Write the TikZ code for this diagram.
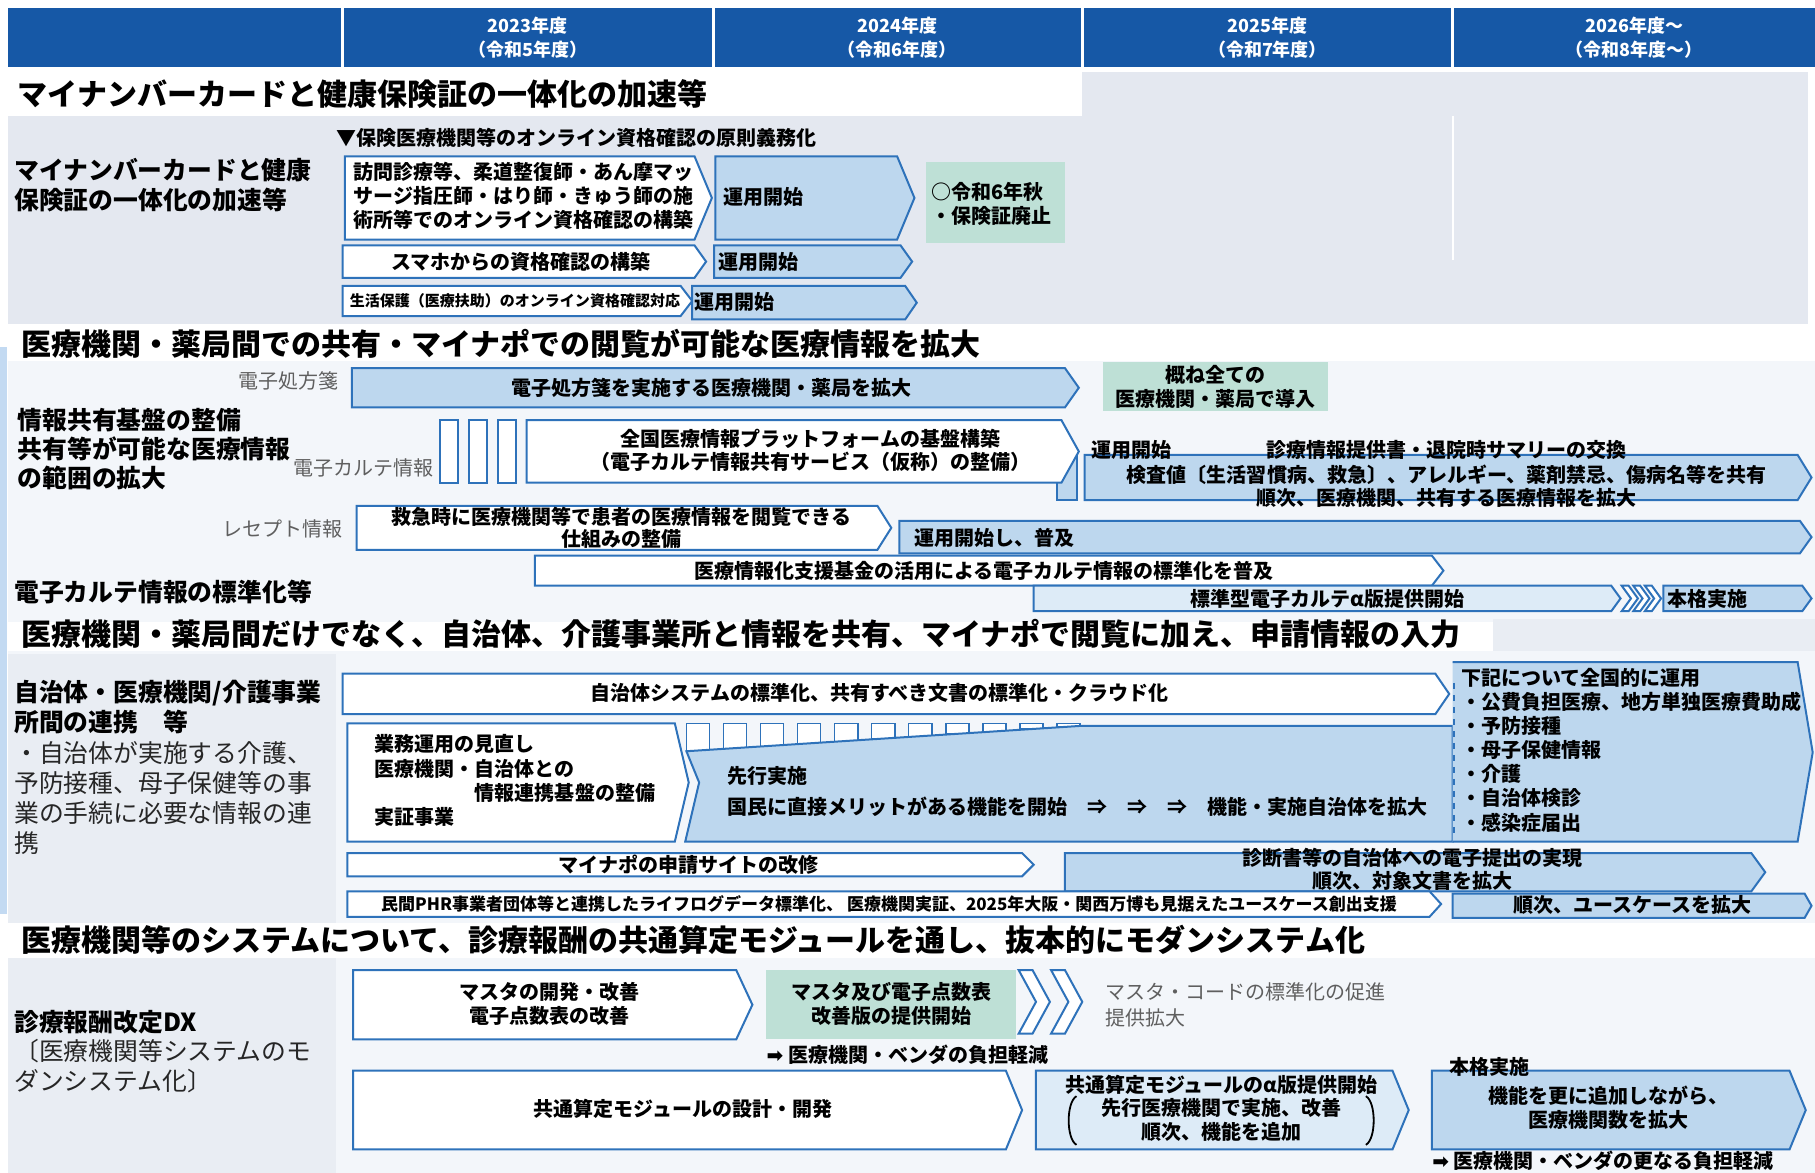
\documentclass[tikz,border=0pt]{standalone}
\usepackage{fontspec}
\setmainfont{Noto Sans CJK JP}
\newfontfamily\djvfont{DejaVu Sans}
\definecolor{hblue}{RGB}{22,88,166}
\definecolor{oblue}{RGB}{46,114,186}
\definecolor{fblue}{RGB}{189,215,238}
\definecolor{pblue}{RGB}{221,235,247}
\definecolor{grn}{RGB}{190,224,214}
\definecolor{bgone}{RGB}{228,232,240}
\definecolor{bgtwo}{RGB}{243,246,250}
\definecolor{bgthree}{RGB}{233,237,243}
\definecolor{lstrip}{RGB}{195,218,242}
\definecolor{gtext}{RGB}{95,95,95}
\newcommand{\chv}[7]{%
  \path[#1] (#2,#3) -- ({#4-#6},#3) -- (#4,{(#3+#5)/2}) -- ({#4-#6},#5) -- (#2,#5) -- cycle;
  \coordinate (#7) at ({(#2+#4)/2},{(#3+#5)/2});}
\newcommand{\sch}[5]{%
  \path[wb] (#1,#2) -- ({#1+#5},#2) -- ({#1+#4},{(#2+#3)/2}) -- ({#1+#5},#3) -- (#1,#3) -- ({#1+#4-#5},{(#2+#3)/2}) -- cycle;}
\tikzset{
 wb/.style={draw=oblue, fill=white, line width=1pt},
 bb/.style={draw=oblue, fill=fblue, line width=1pt},
 pb/.style={draw=oblue, fill=pblue, line width=1pt},
 tt/.style={font=\fontsize{15}{18}\selectfont\bfseries, anchor=west, inner sep=0pt},
 lab/.style={font=\fontsize{12.4}{14.7}\selectfont\bfseries, anchor=west, inner sep=0pt, align=left},
 labr/.style={font=\fontsize{12.4}{15}\selectfont, anchor=west, inner sep=0pt, align=left, text=black!85},
 bx/.style={font=\fontsize{10}{11.9}\selectfont\bfseries, inner sep=0pt, align=center},
 bxl/.style={bx, anchor=west, align=left},
 sl/.style={font=\fontsize{10}{12}\selectfont, text=gtext, inner sep=0pt},
 hd/.style={font=\fontsize{9}{11}\selectfont\bfseries, text=white, inner sep=0pt},
}
\begin{document}
\begin{tikzpicture}[x=0.5787pt, y=-0.5787pt]
\useasboundingbox (0,0) rectangle (1568,1013);
\fill[white] (0,0) rectangle (1568,1013);
% backgrounds
\fill[bgone] (7,100) rectangle (935,280);
\fill[bgone] (935,62) rectangle (1562,280);
\draw[white, line width=1pt] (1255,100) -- (1255,225);
\fill[bgtwo] (7,312) rectangle (1568,537);
\fill[bgtwo] (7,562) rectangle (1568,797);
\fill[bgthree] (1290,535) rectangle (1568,562);
\fill[bgtwo] (7,828) rectangle (1568,1013);
\fill[bgthree] (7,565) rectangle (290,797);
\fill[bgthree] (7,828) rectangle (290,1013);
\fill[lstrip] (0,300) rectangle (6,790);
% header
\fill[hblue] (7,7) rectangle (1568,58);
\foreach \xx in {296,616,935,1255} \draw[white, line width=1.5pt] (\xx,7) -- (\xx,58);
\node[hd] (h1a) at (456,22) {2023年度};
\node[hd] (h1b) at (456,43) {（令和5年度）};
\node[hd] (h2a) at (775,22) {2024年度};
\node[hd] (h2b) at (775,43) {（令和6年度）};
\node[hd] (h3a) at (1095,22) {2025年度};
\node[hd] (h3b) at (1095,43) {（令和7年度）};
\node[hd] (h4a) at (1412,22) {2026年度～};
\node[hd] (h4b) at (1412,43) {（令和8年度～）};
% ---------------- section 1
\node[tt] (s1) at (15,81) {マイナンバーカードと健康保険証の一体化の加速等};
\node[lab] (l1) at (12,160) {マイナンバーカードと健康\\保険証の一体化の加速等};
\node[bxl] (ob) at (290,119) {▼保険医療機関等のオンライン資格確認の原則義務化};
\chv{wb}{298}{135}{615}{207}{15}{a1}
\node[bxl] (a1t) at (305,169) {訪問診療等、柔道整復師・あん摩マッ\\サージ指圧師・はり師・きゅう師の施\\術所等でのオンライン資格確認の構築};
\chv{bb}{618}{135}{790}{207}{15}{a2}
\node[bxl] (a2t) at (625,170) {運用開始};
\fill[grn] (800,140) rectangle (920,210);
\node[bxl] (gt1) at (804,176) {○令和6年秋\\・保険証廃止};
\chv{wb}{296}{212}{610}{240}{10}{b1}
\node[bx] (b1t) at (450,226) {スマホからの資格確認の構築};
\chv{bb}{617}{212}{788}{240}{10}{b2}
\node[bxl] (b2t) at (620,226) {運用開始};
\chv{wb}{296}{247}{598}{273}{10}{c1}
\node[bxl, font=\fontsize{7.5}{9}\selectfont\bfseries] (c1t) at (302,260) {生活保護（医療扶助）のオンライン資格確認対応};
\chv{bb}{598}{247}{792}{276}{10}{c2}
\node[bxl] (c2t) at (600,261) {運用開始};
% ---------------- section 2
\node[tt] (s2) at (18,297) {医療機関・薬局間での共有・マイナポでの閲覧が可能な医療情報を拡大};
\node[sl, anchor=east] (q1) at (293,329) {電子処方箋};
\chv{bb}{304}{318}{932}{352}{12}{p1}
\node[bx] (p1t) at (615,335) {電子処方箋を実施する医療機関・薬局を拡大};
\fill[grn] (953,313) rectangle (1147,355);
\node[bx] (gt2) at (1050,334) {概ね全ての\\医療機関・薬局で導入};
\node[lab] (l2) at (15,388) {情報共有基盤の整備\\共有等が可能な医療情報\\の範囲の拡大};
\node[sl, anchor=east] (q2) at (375,404) {電子カルテ情報};
\path[wb] (380,363) rectangle (396,417);
\path[wb] (405,363) rectangle (421,417);
\path[wb] (430,363) rectangle (446,417);
\path[bb] (913,393) rectangle (930,432);
\chv{wb}{455}{363}{932}{417}{15}{e1}
\node[bx] (e1t) at (700,389) {全国医療情報プラットフォームの基盤構築\\（電子カルテ情報共有サービス（仮称）の整備）};
\chv{bb}{937}{393}{1565}{432}{12}{e2}
\node[bxl] (e2a) at (943,389) {運用開始};
\node[bx] (e2b) at (1250,389) {診療情報提供書・退院時サマリーの交換};
\node[bx] (e2c) at (1250,410) {検査値〔生活習慣病、救急〕、アレルギー、薬剤禁忌、傷病名等を共有};
\node[bx] (e2d) at (1250,430) {順次、医療機関、共有する医療情報を拡大};
\node[sl, anchor=east] (q3) at (296,457) {レセプト情報};
\chv{wb}{308}{437}{770}{475}{12}{r1}
\node[bx, font=\fontsize{10}{11}\selectfont\bfseries] (r1t) at (537,456) {救急時に医療機関等で患者の医療情報を閲覧できる\\仕組みの整備};
\chv{bb}{777}{450}{1565}{478}{10}{r2}
\node[bxl] (r2t) at (790,465) {運用開始し、普及};
\chv{wb}{462}{480}{1247}{506}{10}{k1}
\node[bx] (k1t) at (850,493) {医療情報化支援基金の活用による電子カルテ情報の標準化を普及};
\node[lab] (l3) at (12,511) {電子カルテ情報の標準化等};
\chv{pb}{893}{506}{1400}{528}{8}{k2}
\node[bx] (k2t) at (1147,517) {標準型電子カルテα版提供開始};
\sch{1401}{506}{528}{14}{6}
\sch{1411}{506}{528}{14}{6}
\sch{1421}{506}{528}{14}{6}
\chv{bb}{1437}{506}{1565}{528}{8}{k3}
\node[bxl] (k3t) at (1440,517) {本格実施};
% ---------------- section 3
\node[tt] (s3) at (18,548) {医療機関・薬局間だけでなく、自治体、介護事業所と情報を共有、マイナポで閲覧に加え、申請情報の入力};
\node[lab] (l4) at (12,611) {自治体・医療機関/介護事業\\所間の連携　等};
\node[labr] (l5) at (12,689) {・自治体が実施する介護、\\予防接種、母子保健等の事\\業の手続に必要な情報の連\\携};
\foreach \i in {0,...,10} {
  \pgfmathsetmacro\xa{593+32*\i}
  \pgfmathsetmacro\yb{650-(\xa+10-590)*23/345}
  \path[wb, line width=0.8pt] (\xa,625) rectangle ({\xa+20},\yb);
}
\path[bb] (593,649) -- (935,627) -- (1255,627) -- (1255,727) -- (592,727) -- (604,676) -- cycle;
\path[fill=fblue] (1255,572) -- (1553,572) -- (1566,650) -- (1553,727) -- (1255,727) -- cycle;
\draw[oblue, line width=1pt] (1255,572) -- (1553,572) -- (1566,650) -- (1553,727) -- (1255,727);
\draw[oblue, dashed, line width=0.8pt] (1256,590) -- (1256,722);
\chv{wb}{296}{582}{1252}{617}{12}{m1}
\node[bx] (m1t) at (760,599) {自治体システムの標準化、共有すべき文書の標準化・クラウド化};
\chv{wb}{300}{625}{595}{727}{12}{m2}
\node[bxl] (m2a) at (323,643) {業務運用の見直し};
\node[bxl] (m2b) at (323,664) {医療機関・自治体との};
\node[bxl] (m2c) at (410,685) {情報連携基盤の整備};
\node[bxl] (m2d) at (323,706) {実証事業};
\node[bxl] (sk1) at (628,670) {先行実施};
\node[bxl] (sk2) at (628,697) {国民に直接メリットがある機能を開始　⇒　⇒　⇒　機能・実施自治体を拡大};
\node[bxl, font=\fontsize{10}{12.05}\selectfont\bfseries] (zt) at (1262,648) {下記について全国的に運用\\・公費負担医療、地方単独医療費助成\\・予防接種\\・母子保健情報\\・介護\\・自治体検診\\・感染症届出};
\chv{bb}{920}{737}{1525}{770}{12}{m4}
\node[bx] (m4a) at (1220,741) {診断書等の自治体への電子提出の実現};
\node[bx] (m4b) at (1220,761) {順次、対象文書を拡大};
\chv{wb}{300}{737}{893}{757}{10}{m3}
\node[bx] (m3t) at (595,747) {マイナポの申請サイトの改修};
\chv{wb}{300}{770}{1245}{792}{10}{m5}
\node[bx, font=\fontsize{8.5}{10}\selectfont\bfseries] (m5t) at (768,781) {民間PHR事業者団体等と連携したライフログデータ標準化、 医療機関実証、2025年大阪・関西万博も見据えたユースケース創出支援};
\chv{bb}{1255}{772}{1565}{793}{6}{m6}
\node[bx] (m6t) at (1410,782) {順次、ユースケースを拡大};
% ---------------- section 4
\node[tt] (s4) at (18,812) {医療機関等のシステムについて、診療報酬の共通算定モジュールを通し、抜本的にモダンシステム化};
\node[lab] (l6) at (12,883) {診療報酬改定DX};
\node[labr] (l7) at (12,921) {〔医療機関等システムのモ\\ダンシステム化〕};
\chv{wb}{305}{838}{650}{898}{14}{d1}
\node[bx] (d1t) at (475,867) {マスタの開発・改善\\電子点数表の改善};
\fill[grn] (662,838) rectangle (878,898);
\node[bx] (gt3) at (770,867) {マスタ及び電子点数表\\改善版の提供開始};
\sch{880}{838}{893}{27}{12}
\sch{908}{838}{893}{27}{12}
\node[sl, anchor=west, align=left, font=\fontsize{10}{12.7}\selectfont] (mc) at (955,868) {マスタ・コードの標準化の促進\\提供拡大};
\node[bxl] (f1) at (662,911) {{\djvfont ➡} 医療機関・ベンダの負担軽減};
\chv{wb}{305}{925}{883}{993}{14}{d2}
\node[bx] (d2t) at (590,958) {共通算定モジュールの設計・開発};
\chv{pb}{895}{925}{1217}{993}{14}{d3}
\node[bx] (d3a) at (1055,937) {共通算定モジュールのα版提供開始};
\node[bx] (d3b) at (1055,957) {先行医療機関で実施、改善};
\node[bx] (d3c) at (1055,978) {順次、機能を追加};
\draw[line width=0.9pt] (930,947) .. controls (921,952) and (921,984) .. (930,989);
\draw[line width=0.9pt] (1180,947) .. controls (1189,952) and (1189,984) .. (1180,989);
\chv{bb}{1237}{925}{1560}{993}{14}{d4}
\node[bxl] (d4a) at (1252,922) {本格実施};
\node[bx] (d4b) at (1390,957) {機能を更に追加しながら、\\医療機関数を拡大};
\node[bxl] (f2) at (1237,1003) {{\djvfont ➡} 医療機関・ベンダの更なる負担軽減};
\end{tikzpicture}
\end{document}
